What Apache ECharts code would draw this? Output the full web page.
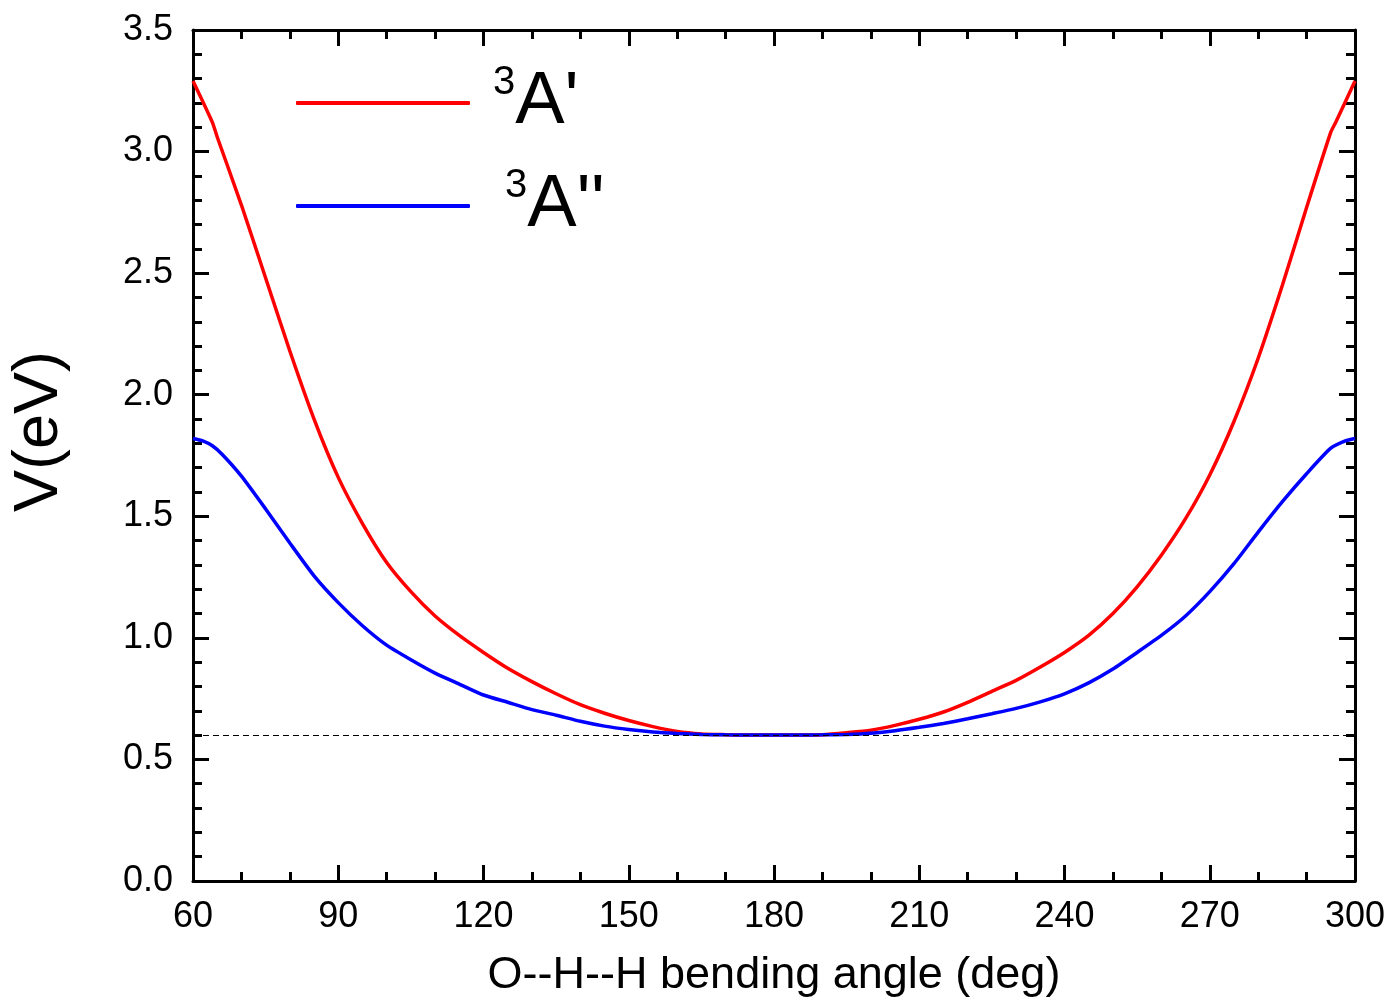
<!DOCTYPE html>
<html>
<head>
<meta charset="utf-8">
<script src="https://cdn.jsdelivr.net/npm/echarts@6/dist/echarts.min.js"></script>
<style>
  html, body { margin: 0; padding: 0; background: #fff; }
  #chart { width: 1394px; height: 1003px; }
</style>
</head>
<body>
<div id="chart"></div>
<script>
// bending angle (deg)
const angles = [60, 64, 65, 70, 75, 80, 85, 90, 95, 100, 105, 110, 115, 120, 125, 130, 135, 140, 145, 150,
  155, 160, 165, 170, 175, 180, 185, 190, 195, 200, 205, 210, 215, 220, 225, 230, 235, 240, 245, 250,
  255, 260, 265, 270, 275, 280, 285, 290, 295, 296, 300]
// 3A' potential (eV)
const stateAp = [3.29, 3.12, 3.06, 2.78, 2.48, 2.18, 1.90, 1.66, 1.47, 1.31, 1.19, 1.09, 1.01, 0.94, 0.875, 0.82, 0.77, 0.725, 0.69, 0.66,
  0.635, 0.615, 0.605, 0.602, 0.6, 0.6, 0.6, 0.602, 0.61, 0.62, 0.64, 0.665, 0.695, 0.735, 0.78, 0.825, 0.88, 0.94, 1.01, 1.10,
  1.21, 1.34, 1.49, 1.67, 1.89, 2.15, 2.45, 2.77, 3.08, 3.12, 3.29]

const anglesB = [60, 62, 64, 66, 70, 75, 80, 85, 90, 95, 100, 105, 110, 115, 120, 125, 130, 135, 140, 145, 150,
  155, 160, 165, 170, 175, 180, 185, 190, 195, 200, 205, 210, 215, 220, 225, 230, 235, 240, 245, 250,
  255, 260, 265, 270, 275, 280, 285, 290, 295, 298, 300]
// 3A'' potential (eV)
const stateApp = [1.82, 1.81, 1.79, 1.755, 1.665, 1.53, 1.39, 1.255, 1.145, 1.05, 0.97, 0.91, 0.855, 0.81, 0.765, 0.735, 0.705, 0.682, 0.657, 0.637, 0.623,
  0.613, 0.607, 0.603, 0.601, 0.6, 0.6, 0.6, 0.601, 0.603, 0.608, 0.618, 0.632, 0.648, 0.667, 0.688, 0.71, 0.737, 0.77, 0.815, 0.872,
  0.94, 1.01, 1.09, 1.19, 1.305, 1.435, 1.56, 1.675, 1.78, 1.81, 1.82]

const refLevel = 0.6

const chart = echarts.init(document.getElementById('chart'))
const font = 'Liberation Sans, Arial, sans-serif'
const tickStyle = { color: '#000', width: 3 }

function xAx (pos, labels) {
  return {
    type: 'value', position: pos, min: 60, max: 300, interval: 30,
    axisLine: { show: true, onZero: false, lineStyle: { color: '#000', width: 3 } },
    axisTick: { show: true, inside: true, length: 16, lineStyle: tickStyle },
    minorTick: { show: true, splitNumber: 3, length: 9, lineStyle: tickStyle },
    splitLine: { show: false },
    axisLabel: { show: labels, color: '#000', fontSize: 36, fontFamily: font, margin: 18 }
  }
}
function yAx (pos, labels) {
  return {
    type: 'value', position: pos, min: 0, max: 3.5, interval: 0.5,
    axisLine: { show: true, onZero: false, lineStyle: { color: '#000', width: 3 } },
    axisTick: { show: true, inside: true, length: 16, lineStyle: tickStyle },
    minorTick: { show: true, splitNumber: 5, length: 9, lineStyle: tickStyle },
    splitLine: { show: false },
    axisLabel: { show: labels, color: '#000', fontSize: 36, fontFamily: font, margin: 20,
      formatter: v => v.toFixed(1) }
  }
}

const xMain = xAx('bottom', true)
xMain.name = 'O--H--H bending angle (deg)'
xMain.nameLocation = 'middle'
xMain.nameGap = 72
xMain.nameTextStyle = { color: '#000', fontSize: 45, fontFamily: font }
const yMain = yAx('left', true)
yMain.name = 'V(eV)'
yMain.nameLocation = 'middle'
yMain.nameGap = 122
yMain.nameTextStyle = { color: '#000', fontSize: 63, fontFamily: font, padding: [0, 0, 0, 48] }

const rich = {
  s: { fontSize: 40, fontFamily: font, color: '#000', verticalAlign: 'top', lineHeight: 34, padding: [0, 0, 0, 18] },
  s2: { fontSize: 40, fontFamily: font, color: '#000', verticalAlign: 'top', lineHeight: 34, padding: [0, 0, 0, 30] },
  a: { fontSize: 74, fontFamily: font, color: '#000', lineHeight: 80 }
}

chart.setOption({
  animation: false,
  backgroundColor: '#fff',
  grid: { left: 193, right: 39, top: 30, bottom: 118, containLabel: false },
  xAxis: [xMain, xAx('top', false)],
  yAxis: [yMain, yAx('right', false)],
  legend: {
    orient: 'vertical', left: 291, top: 58, itemWidth: 174, itemHeight: 4, itemGap: 26,
    icon: 'roundRect',
    data: ["3A'", "3A''"],
    formatter: name => name === "3A'" ? "{s|3}{a|A'}" : "{s2|3}{a|A''}",
    textStyle: { rich }
  },
  series: [
    {
      name: "3A'", type: 'line', symbol: 'none', smooth: 0.2,
      data: angles.map((a, i) => [a, stateAp[i]]),
      lineStyle: { color: '#ff0000', width: 3.5 }, itemStyle: { color: '#ff0000' },
      markLine: {
        silent: true, symbol: 'none', label: { show: false },
        lineStyle: { color: '#000', width: 1, type: [6, 4] },
        data: [{ yAxis: refLevel }]
      },
      z: 3
    },
    {
      name: "3A''", type: 'line', symbol: 'none', smooth: 0.2,
      data: anglesB.map((a, i) => [a, stateApp[i]]),
      lineStyle: { color: '#0000ff', width: 3.5 }, itemStyle: { color: '#0000ff' },
      z: 4
    }
  ]
})
</script>
</body>
</html>
